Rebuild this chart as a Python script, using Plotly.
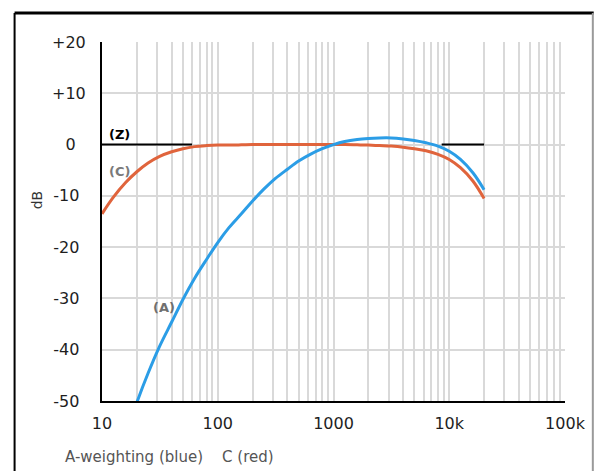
import plotly.graph_objects as go

# Frequencies (Hz) and weighting values (dB)
freq = [10, 12.5, 16, 20, 25, 31.5, 40, 50, 63, 80, 100, 125, 160, 200, 250, 315,
        400, 500, 630, 800, 1000, 1250, 1600, 2000, 2500, 3150, 4000, 5000, 6300,
        8000, 10000, 12500, 16000, 20000]
c_weight = [-13.5, -10.3, -7.4, -5.3, -3.6, -2.3, -1.4, -0.8, -0.4, -0.2, -0.1, -0.1,
            -0.05, 0, 0, 0, 0, 0, 0, 0, 0, 0, -0.05, -0.1, -0.2, -0.3, -0.5, -0.8,
            -1.2, -1.9, -2.9, -4.5, -7.1, -10.5]
a_freq = freq[2:]
a_weight = [-56.7, -50.3, -44.6, -39.3, -34.6, -30.2, -26.1, -22.4, -19.1, -16.2,
            -13.5, -11.0, -8.7, -6.6, -4.8, -3.2, -1.9, -0.8, 0.0, 0.6, 1.0, 1.2,
            1.3, 1.3, 1.1, 0.8, 0.35, -0.3, -1.3, -2.9, -5.5, -8.8]
z_freq = [10, 60, None, 8600, 20000]
z_weight = [0, 0, None, 0, 0]

x_tickvals = [10, 100, 1000, 10000, 100000]
x_ticktext = ["10", "100", "1000", "10k", "100k"]
y_tickvals = [20, 10, 0, -10, -20, -30, -40, -50]
y_ticktext = ["+20", "+10", "0\u2007", "-10\u2009\u2009", "-20\u2009\u2009",
              "-30\u2009\u2009", "-40\u2009\u2009", "-50\u2009\u2009"]

FONT = "DejaVu Sans"
GRID = "#d9d9d9"

fig = go.Figure()
fig.add_trace(go.Scatter(x=z_freq, y=z_weight, mode="lines",
                         line=dict(color="black", width=2), connectgaps=False,
                         hoverinfo="skip", showlegend=False))
fig.add_trace(go.Scatter(x=freq, y=c_weight, mode="lines",
                         line=dict(color="#e0643c", width=3, shape="spline", smoothing=1.0),
                         showlegend=False))
fig.add_trace(go.Scatter(x=a_freq, y=a_weight, mode="lines",
                         line=dict(color="#2b9de6", width=3, shape="spline", smoothing=1.0),
                         showlegend=False))

fig.update_xaxes(type="log", range=[1, 5], tickvals=x_tickvals, ticktext=x_ticktext,
                 showgrid=True, gridcolor=GRID, gridwidth=2,
                 minor=dict(showgrid=True, gridcolor=GRID, gridwidth=2, dtick="D1"),
                 showline=True, linecolor="black", linewidth=2, ticks="",
                 zeroline=False, ticklabelstandoff=7,
                 tickfont=dict(family=FONT, size=16, color="#1e1e1e"))
fig.update_yaxes(range=[-50, 20], tickvals=y_tickvals, ticktext=y_ticktext,
                 showgrid=True, gridcolor=GRID, gridwidth=2,
                 showline=True, linecolor="black", linewidth=2, ticks="",
                 zeroline=False, ticklabelstandoff=11,
                 tickfont=dict(family=FONT, size=16, color="#1e1e1e"))

annotations = [
    dict(text="<b>(Z)</b>", x=1.043, y=2.0, xref="x", yref="y", xanchor="left",
         yanchor="middle", showarrow=False, font=dict(family=FONT, size=13, color="black")),
    dict(text="<b>(C)</b>", x=1.043, y=-5.2, xref="x", yref="y", xanchor="left",
         yanchor="middle", showarrow=False, font=dict(family=FONT, size=13, color="#7a7a7a")),
    dict(text="<b>(A)</b>", x=1.532, y=-31.7, xref="x", yref="y", xanchor="center",
         yanchor="middle", showarrow=False, font=dict(family=FONT, size=13, color="#6f6f6f")),
    dict(text="dB", x=-0.1395, y=0.56, xref="paper", yref="paper", xanchor="center",
         yanchor="middle", textangle=-90, showarrow=False,
         font=dict(family=FONT, size=14, color="#333")),
    dict(text="A-weighting (blue)\u00a0\u00a0\u00a0 C (red)", x=-0.0837, y=-0.1556,
         xref="paper", yref="paper", xanchor="left", yanchor="middle", showarrow=False,
         font=dict(family=FONT, size=15, color="#555")),
]

shapes = [
    dict(type="line", xref="paper", yref="paper", x0=-0.1888, x1=1.062, y0=1.0809, y1=1.0809,
         line=dict(color="black", width=3)),
    dict(type="line", xref="paper", yref="paper", x0=-0.1888, x1=-0.1888, y0=1.0809, y1=-0.4,
         line=dict(color="black", width=2)),
    dict(type="line", xref="paper", yref="paper", x0=1.0601, x1=1.0601, y0=1.0809, y1=-0.4,
         line=dict(color="#9a9a9a", width=2)),
]

fig.update_layout(width=598, height=471, margin=dict(l=102, r=30, t=42, b=70),
                  paper_bgcolor="white", plot_bgcolor="white",
                  annotations=annotations, shapes=shapes, showlegend=False,
                  font=dict(family=FONT))

fig.write_html("out.html", config={"displayModeBar": False},
               post_script="document.body.style.margin='0';document.body.style.overflow='hidden';")
